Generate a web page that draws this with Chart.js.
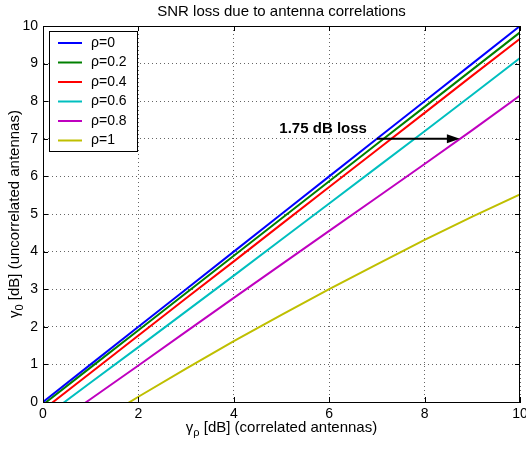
<!DOCTYPE html>
<html>
<head>
<meta charset="utf-8">
<script src="https://cdn.jsdelivr.net/npm/chart.js@4.4.1/dist/chart.umd.min.js"></script>
<style>
  html, body { margin:0; padding:0; background:#fff; }
  #wrap { width:526px; height:450px; position:relative; }
</style>
</head>
<body>
<div id="wrap"><canvas id="myChart" width="526" height="450"></canvas></div>
<script>
// gamma_rho [dB] sample points (shared x for all curves)
var gammaRho = [0, 1, 2, 3, 4, 5, 6, 7, 8, 9, 10];
// gamma_0 [dB] per correlation coefficient (values below 0 are clipped by the axis)
var rho0   = [0, 1, 2, 3, 4, 5, 6, 7, 8, 9, 10];
var rho02  = [-0.07, 0.92, 1.91, 2.90, 3.89, 4.88, 5.87, 6.86, 7.85, 8.84, 9.83];
var rho04  = [-0.21, 0.78, 1.77, 2.76, 3.74, 4.73, 5.72, 6.70, 7.69, 8.68, 9.66];
var rho06  = [-0.43, 0.52, 1.46, 2.41, 3.36, 4.32, 5.28, 6.24, 7.20, 8.17, 9.15];
var rho08  = [-0.81, 0.08, 0.97, 1.87, 2.77, 3.66, 4.55, 5.44, 6.33, 7.23, 8.15];
var rho1   = [-1.42, -0.64, 0.14, 0.89, 1.62, 2.32, 3.00, 3.66, 4.31, 4.93, 5.52];
var seriesLabels = ['\u03C1=0', '\u03C1=0.2', '\u03C1=0.4', '\u03C1=0.6', '\u03C1=0.8', '\u03C1=1'];
var seriesColors = ['#0000ff', '#008000', '#ff0000', '#00bfbf', '#bf00bf', '#bfbf00'];
var xTicks = [0, 2, 4, 6, 8, 10];
var yTicks = [0, 1, 2, 3, 4, 5, 6, 7, 8, 9, 10];
// arrow annotation: from (x, y) to (x, y)
var arrowFrom = [7.0, 7];
var arrowTo = [8.74, 7];
var arrowText = '1.75 dB loss';

var FONT = "'Liberation Sans', Arial, Helvetica, sans-serif";

function pts(ys) {
    var out = [];
    for (var i = 0; i < gammaRho.length; i++) out.push({x: gammaRho[i], y: ys[i]});
    return out;
}

var allY = [rho0, rho02, rho04, rho06, rho08, rho1];
var datasets = [];
for (var i = 0; i < allY.length; i++) {
    datasets.push({
        label: seriesLabels[i],
        data: pts(allY[i]),
        borderColor: seriesColors[i],
        backgroundColor: seriesColors[i],
        borderWidth: 2,
        pointRadius: 0,
        tension: 0,
        fill: false
    });
}

var matlabPlugin = {
    id: 'matlab',
    beforeDraw: function(chart) {
        var ctx = chart.ctx;
        ctx.save();
        ctx.fillStyle = '#fff';
        ctx.fillRect(0, 0, chart.width, chart.height);
        ctx.restore();
    },
    afterDatasetsDraw: function(chart) {
        var ctx = chart.ctx, a = chart.chartArea;
        var xs = chart.scales.x, ys = chart.scales.y;
        ctx.save();

        // arrow + label
        var x1 = xs.getPixelForValue(arrowFrom[0]), y1 = ys.getPixelForValue(arrowFrom[1]);
        var x2 = xs.getPixelForValue(arrowTo[0]), y2 = ys.getPixelForValue(arrowTo[1]);
        ctx.strokeStyle = '#000';
        ctx.fillStyle = '#000';
        ctx.lineWidth = 2;
        ctx.beginPath();
        ctx.moveTo(x1, y1);
        ctx.lineTo(x2 - 10, y2);
        ctx.stroke();
        ctx.beginPath();
        ctx.moveTo(x2, y2);
        ctx.lineTo(x2 - 13, y2 - 4.5);
        ctx.lineTo(x2 - 13, y2 + 4.5);
        ctx.closePath();
        ctx.fill();
        ctx.font = 'bold 15px ' + FONT;
        ctx.textAlign = 'right';
        ctx.textBaseline = 'middle';
        ctx.fillText(arrowText, x1 - 10, y1 - 10);

        // box
        ctx.lineWidth = 1;
        ctx.strokeStyle = '#000';
        ctx.strokeRect(a.left + 0.5, a.top + 0.5, a.right - a.left - 1, a.bottom - a.top);

        // inward tick marks on all sides
        ctx.beginPath();
        xTicks.forEach(function(v) {
            var p = Math.round(xs.getPixelForValue(v)) + 0.5;
            ctx.moveTo(p, a.bottom); ctx.lineTo(p, a.bottom - 5);
            ctx.moveTo(p, a.top); ctx.lineTo(p, a.top + 5);
        });
        yTicks.forEach(function(v) {
            var p = Math.round(ys.getPixelForValue(v)) + 0.5;
            ctx.moveTo(a.left, p); ctx.lineTo(a.left + 5, p);
            ctx.moveTo(a.right, p); ctx.lineTo(a.right - 5, p);
        });
        ctx.stroke();

        // legend box
        var lx = a.left + 6, ly = a.top + 5, lw = 88, lh = 120;
        ctx.fillStyle = '#fff';
        ctx.fillRect(lx, ly, lw, lh);
        ctx.strokeStyle = '#000';
        ctx.strokeRect(lx + 0.5, ly + 0.5, lw, lh);
        ctx.font = '14px ' + FONT;
        ctx.textAlign = 'left';
        ctx.textBaseline = 'middle';
        chart.data.datasets.forEach(function(ds, k) {
            var yy = ly + 12 + k * 19.5;
            ctx.strokeStyle = ds.borderColor;
            ctx.lineWidth = 2;
            ctx.beginPath();
            ctx.moveTo(lx + 9, yy);
            ctx.lineTo(lx + 33, yy);
            ctx.stroke();
            ctx.fillStyle = '#000';
            ctx.fillText(ds.label, lx + 42, yy);
        });
        ctx.restore();
    },
    afterDraw: function(chart) {
        var ctx = chart.ctx, a = chart.chartArea;
        var cx = (a.left + a.right) / 2;
        ctx.save();
        ctx.fillStyle = '#000';
        ctx.textBaseline = 'middle';
        ctx.textAlign = 'center';
        ctx.font = '15px ' + FONT;
        ctx.fillText('SNR loss due to antenna correlations', cx, 12);

        // x axis title with subscript
        drawSub(ctx, '\u03B3', '\u03C1', ' [dB] (correlated antennas)', cx, 428);
        // y axis title rotated
        ctx.translate(15, (a.top + a.bottom) / 2);
        ctx.rotate(-Math.PI / 2);
        drawSub(ctx, '\u03B3', '0', ' [dB] (uncorrelated antennas)', 0, 0);
        ctx.restore();
    }
};

function drawSub(ctx, base, sub, rest, cx, cy) {
    var big = '15px ' + FONT, small = '11px ' + FONT;
    ctx.font = big;
    var w1 = ctx.measureText(base).width;
    var w3 = ctx.measureText(rest).width;
    ctx.font = small;
    var w2 = ctx.measureText(sub).width;
    var x = cx - (w1 + w2 + w3) / 2;
    ctx.textAlign = 'left';
    ctx.font = big;
    ctx.fillText(base, x, cy);
    ctx.font = small;
    ctx.fillText(sub, x + w1, cy + 5);
    ctx.font = big;
    ctx.fillText(rest, x + w1 + w2, cy);
}

new Chart(document.getElementById('myChart').getContext('2d'), {
    type: 'line',
    data: { datasets: datasets },
    options: {
        responsive: false,
        animation: false,
        layout: { padding: { top: 26, right: 6, left: 0, bottom: 0 } },
        plugins: { legend: { display: false }, title: { display: false }, tooltip: { enabled: false } },
        scales: {
            x: {
                type: 'linear', min: 0, max: 10,
                afterBuildTicks: function(s) { s.ticks = xTicks.map(function(v) { return {value: v}; }); },
                afterFit: function(s) { s.height = 48; s.paddingLeft = 0; s.paddingRight = 0; },
                ticks: { color: '#000', padding: 4, font: { size: 14, family: FONT } },
                grid: { color: 'rgba(0,0,0,0.6)', drawTicks: false, lineWidth: 1 },
                border: { display: true, color: '#000', dash: [1, 3] }
            },
            y: {
                type: 'linear', min: 0, max: 10,
                afterBuildTicks: function(s) { s.ticks = yTicks.map(function(v) { return {value: v}; }); },
                afterFit: function(s) { s.width = 43; s.paddingTop = 0; s.paddingBottom = 0; },
                ticks: { color: '#000', padding: 5, font: { size: 14, family: FONT } },
                grid: { color: 'rgba(0,0,0,0.6)', drawTicks: false, lineWidth: 1 },
                border: { display: true, color: '#000', dash: [1, 3] }
            }
        }
    },
    plugins: [matlabPlugin]
});
</script>
</body>
</html>
